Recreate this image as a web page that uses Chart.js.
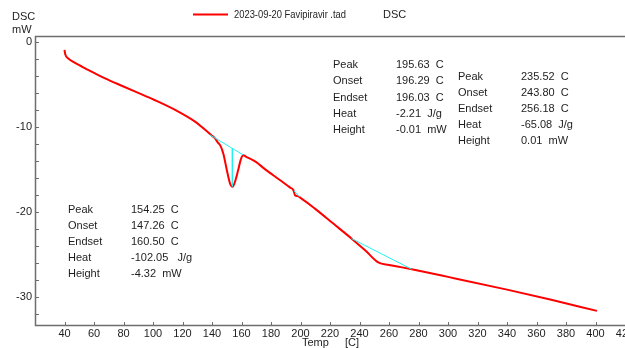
<!DOCTYPE html>
<html>
<head>
<meta charset="utf-8">
<script src="https://cdn.jsdelivr.net/npm/chart.js@4.4.0/dist/chart.umd.min.js"></script>
<style>
html, body { margin: 0; padding: 0; overflow: hidden; background: #fff; }
#wrap { width: 660px; height: 348px; }
</style>
</head>
<body>
<div id="wrap"><canvas id="dsc" width="660" height="348"></canvas></div>
<script>
// DSC trace: temperature [C] vs heat flow [mW]
var temps = [40, 40.5, 42.6, 46, 50, 54, 60, 67.5, 80, 88, 101, 115, 128.5, 134, 137.5, 140, 142, 144, 145.5,
    147.7, 150, 152.2, 154, 155.6, 157.8, 159.5, 161.2, 163.5, 170, 175, 186, 193, 195.2, 196.3, 198, 200,
    210, 222, 234.7, 244, 252.7, 260, 268, 275.4, 300, 340, 370, 401];
var heatFlow = [-0.9, -1.4, -1.9, -2.3, -2.7, -3.06, -3.6, -4.24, -5.2, -5.81, -6.79, -7.96, -9.34, -10.1, -10.6, -11.0, -11.3, -11.8, -12.1,
    -13.1, -15.0, -16.6, -17.0, -16.4, -15.0, -13.8, -13.3, -13.5, -14.1, -14.8, -16.2, -17.1, -17.4, -18.0, -18.1, -18.3,
    -19.6, -21.3, -23.1, -24.5, -25.9, -26.2, -26.45, -26.7, -27.6, -29.1, -30.3, -31.6];

// integration baselines (cyan)
var base1Temp = [138.6, 161.2], base1Flow = [-10.9, -13.26];
var drop1Temp = [153.8, 153.8], drop1Flow = [-12.47, -16.95];
var base2Temp = [195.6, 199.5], base2Flow = [-17.5, -18.2];
var base3Temp = [234.7, 275.4], base3Flow = [-23.1, -26.7];

// axis ticks
var xTicks = [40, 60, 80, 100, 120, 140, 160, 180, 200, 220, 240, 260, 280, 300, 320, 340, 360, 380, 400, 420];
var yTicks = [0, -10, -20, -30];
var yMinorTicks = [0, -2, -4, -6, -8, -10, -12, -14, -16, -18, -20, -22, -24, -26, -28, -30, -32];

// peak analysis results
var peakLabels = ['Peak', 'Onset', 'Endset', 'Heat', 'Height'];
var peakValuesA = ['154.25  C', '147.26  C', '160.50  C', '-102.05   J/g', '-4.32  mW'];
var peakValuesB = ['195.63  C', '196.29  C', '196.03  C', '-2.21  J/g', '-0.01  mW'];
var peakValuesC = ['235.52  C', '243.80  C', '256.18  C', '-65.08  J/g', '0.01  mW'];

var seriesName = '2023-09-20 Favipiravir .tad';
var FONT = '11px "Liberation Sans", Arial, sans-serif';
var TEXT = '#1e1e1e';
var FRAME = '#6e6e6e';

function pts(xs, ys) {
    return xs.map(function (x, i) { return { x: x, y: ys[i] }; });
}

function cyan(xs, ys) {
    return {
        data: pts(xs, ys),
        borderColor: '#22f0f0',
        borderWidth: 1,
        pointRadius: 0,
        tension: 0,
        order: 0
    };
}

var decorPlugin = {
    id: 'decor',
    afterDraw: function (chart) {
        var ctx = chart.ctx;
        var a = chart.chartArea;
        var xs = chart.scales.x, ys = chart.scales.y;
        ctx.save();

        // frame: top, left, bottom
        ctx.strokeStyle = FRAME;
        ctx.lineWidth = 1.5;
        ctx.beginPath();
        ctx.moveTo(a.right + 40, a.top + 0.5);
        ctx.lineTo(a.left + 0.5, a.top + 0.5);
        ctx.lineTo(a.left + 0.5, a.bottom + 0.5);
        ctx.lineTo(a.right + 40, a.bottom + 0.5);
        ctx.stroke();

        // inward tick marks
        ctx.lineWidth = 1;
        ctx.beginPath();
        xTicks.forEach(function (v) {
            var px = Math.round(xs.getPixelForValue(v)) + 0.5;
            ctx.moveTo(px, a.bottom);
            ctx.lineTo(px, a.bottom - 3);
        });
        yMinorTicks.forEach(function (v) {
            var py = Math.round(ys.getPixelForValue(v)) + 0.5;
            ctx.moveTo(a.left, py);
            ctx.lineTo(a.left + 4, py);
        });
        ctx.stroke();

        ctx.fillStyle = TEXT;
        ctx.font = FONT;
        ctx.textBaseline = 'middle';
        ctx.textAlign = 'left';

        // axis titles
        ctx.fillText('DSC', 12, 17);
        ctx.fillText('mW', 12, 30);
        ctx.fillText('Temp', 302, 343);
        ctx.fillText('[C]', 345, 343);

        // legend
        ctx.strokeStyle = '#ff0000';
        ctx.lineWidth = 2;
        ctx.beginPath();
        ctx.moveTo(193, 14.5);
        ctx.lineTo(228, 14.5);
        ctx.stroke();
        ctx.fillText(seriesName, 234, 15, 112);
        ctx.fillText('DSC', 383, 15);

        // result tables
        function table(lx, vx, y0, step, values) {
            peakLabels.forEach(function (label, i) {
                ctx.fillText(label, lx, y0 + i * step);
                ctx.fillText(values[i], vx, y0 + i * step);
            });
        }
        table(68, 131, 210, 16.1, peakValuesA);
        table(333, 396, 65, 16.25, peakValuesB);
        table(458, 521, 76.5, 16.1, peakValuesC);

        ctx.restore();
    }
};

new Chart(document.getElementById('dsc'), {
    type: 'line',
    data: {
        datasets: [
            {
                label: seriesName,
                data: pts(temps, heatFlow),
                borderColor: '#ff0000',
                borderWidth: 2,
                pointRadius: 0,
                cubicInterpolationMode: 'monotone',
                order: 1
            },
            cyan(base1Temp, base1Flow),
            cyan(drop1Temp, drop1Flow),
            cyan(base2Temp, base2Flow),
            cyan(base3Temp, base3Flow)
        ]
    },
    options: {
        responsive: false,
        devicePixelRatio: 1,
        animation: false,
        layout: { padding: { top: 36, right: 35, left: 0, bottom: 0 } },
        plugins: {
            legend: { display: false },
            tooltip: { enabled: false }
        },
        scales: {
            x: {
                type: 'linear',
                min: 20,
                max: 420,
                grid: { display: false, drawTicks: false },
                border: { display: false },
                afterBuildTicks: function (scale) {
                    scale.ticks = xTicks.map(function (v) { return { value: v }; });
                },
                afterFit: function (scale) { scale.height = 23; },
                ticks: {
                    padding: 2,
                    maxRotation: 0,
                    autoSkip: false,
                    color: TEXT,
                    font: { family: '"Liberation Sans", Arial, sans-serif', size: 11 }
                }
            },
            y: {
                type: 'linear',
                min: -33.26,
                max: 0.74,
                grid: { display: false, drawTicks: false },
                border: { display: false },
                afterBuildTicks: function (scale) {
                    scale.ticks = yTicks.map(function (v) { return { value: v }; });
                },
                afterFit: function (scale) { scale.width = 35; },
                ticks: {
                    padding: 3,
                    color: TEXT,
                    font: { family: '"Liberation Sans", Arial, sans-serif', size: 11 }
                }
            }
        }
    },
    plugins: [decorPlugin]
});
</script>
</body>
</html>
